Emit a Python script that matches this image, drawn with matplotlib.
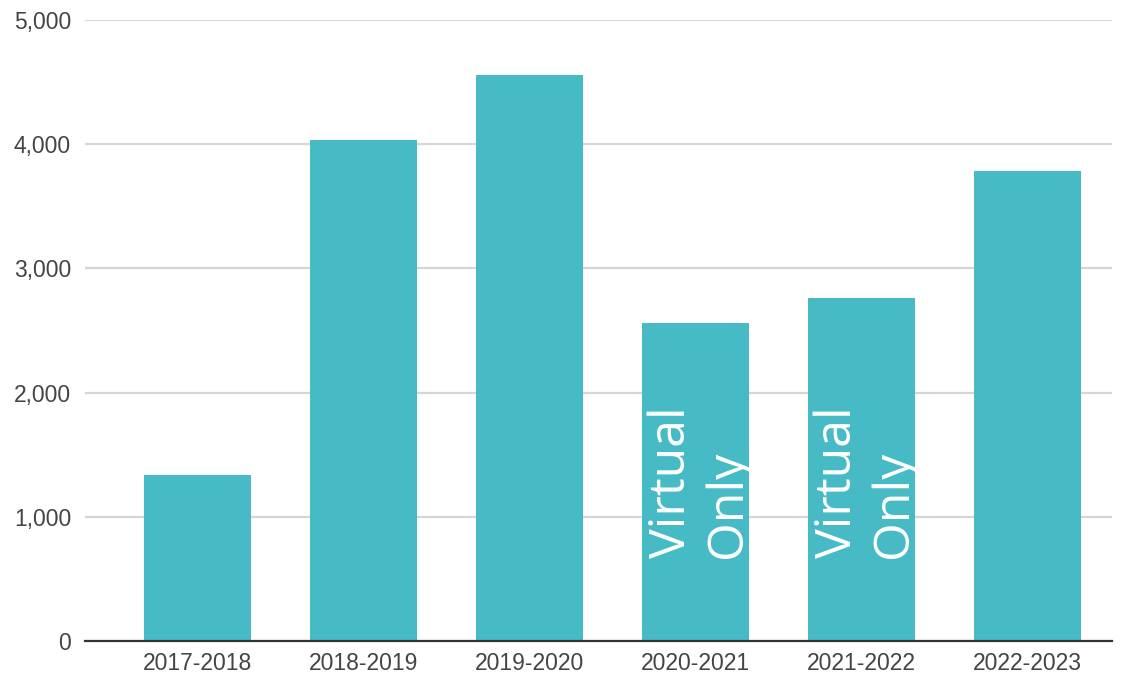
import matplotlib
matplotlib.use("Agg")
import matplotlib.pyplot as plt
from matplotlib.ticker import FuncFormatter

# data
years = ["2017-2018", "2018-2019", "2019-2020", "2020-2021", "2021-2022", "2022-2023"]
counts = [1340, 4030, 4560, 2560, 2760, 3785]
virtual_only = [False, False, False, True, True, False]

bar_color = "#46bbc6"
label_color = "#444444"

fig = plt.figure(figsize=(11.25, 6.76), dpi=100)
ax = fig.add_axes([85 / 1125, 1 - 641 / 676, (1112 - 85) / 1125, (641 - 20) / 676])

x = list(range(len(years)))
ax.bar(x, counts, width=0.645, color=bar_color, zorder=3)

# white rotated note inside the virtual-only years
for xi, v in zip(x, virtual_only):
    if v:
        ax.text(xi + 0.03, 668, "Virtual\nOnly", rotation=90, ha="center", va="bottom",
                multialignment="left", color="white", fontsize=36,
                family="Open Sans", linespacing=1.15, zorder=4)

ax.set_xlim(-0.675, 5.51)
ax.set_ylim(0, 5000)
ax.set_yticks([0, 1000, 2000, 3000, 4000, 5000])
ax.yaxis.set_major_formatter(FuncFormatter(lambda v, p: f"{int(v):,}"))
ax.set_xticks(x)
ax.set_xticklabels(years)

ax.grid(axis="y", color="#d6d6d6", linewidth=1.6, zorder=0)
for s in ["top", "right", "left"]:
    ax.spines[s].set_visible(False)
ax.spines["bottom"].set_color("#333333")
ax.spines["bottom"].set_linewidth(1.6)
ax.spines["bottom"].set_zorder(5)

ax.tick_params(axis="both", length=0, labelsize=16.5, labelcolor=label_color)
ax.tick_params(axis="y", pad=10)
ax.tick_params(axis="x", pad=8)
for lbl in ax.get_xticklabels() + ax.get_yticklabels():
    lbl.set_family("Liberation Sans")

fig.savefig("out.png", dpi=100)
